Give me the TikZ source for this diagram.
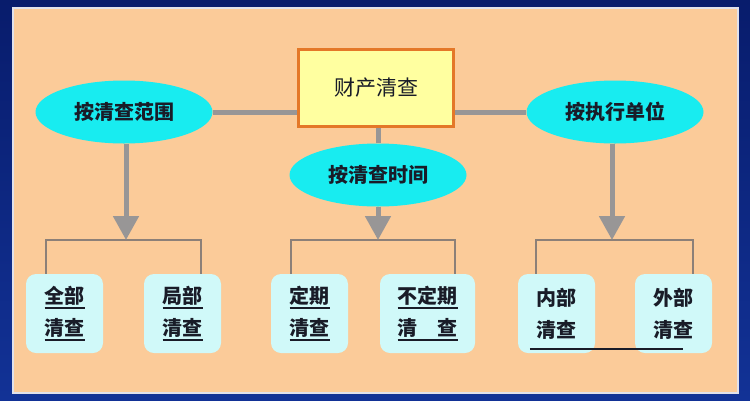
\documentclass[tikz,border=0pt]{standalone}
\usepackage{fontspec}
\newfontfamily\cjk{Noto Sans CJK SC}
\usetikzlibrary{arrows.meta,shapes.geometric}
\definecolor{frametop}{RGB}{8,28,108}
\definecolor{framebottom}{RGB}{18,50,150}
\definecolor{peach}{RGB}{251,203,153}
\definecolor{panelline}{RGB}{225,225,235}
\definecolor{boxyellow}{RGB}{255,255,160}
\definecolor{boxorange}{RGB}{228,120,40}
\definecolor{ovalcyan}{RGB}{24,236,240}
\definecolor{kindcyan}{RGB}{208,249,249}
\definecolor{conngray}{RGB}{152,150,150}
\definecolor{forkgray}{RGB}{140,128,120}
\definecolor{inkdark}{RGB}{25,28,40}
\def\uln#1{\setbox0\hbox{#1}\rlap{\rule[-5.5pt]{\wd0}{1.6pt}}\box0}
\tikzset{
	oval/.style={ellipse, fill=ovalcyan, minimum width=177pt, minimum height=63pt, inner sep=0pt, text=inkdark, font=\cjk\bfseries\fontsize{20}{24}\selectfont},
	kindbox/.style={rounded corners=10pt, fill=kindcyan, minimum width=77pt, minimum height=79pt, inner sep=0pt, align=center, text=inkdark, font=\cjk\bfseries\fontsize{20}{32}\selectfont},
	conn/.style={line width=5pt, draw=conngray, -{Triangle[width=25pt,length=24pt]}},
	link/.style={line width=5pt, draw=conngray},
	forkline/.style={line width=1.6pt, draw=forkgray},
}

\begin{document}
\begin{tikzpicture}[x=1pt, y=-1pt]
		%%%%% START %%%%%
		\useasboundingbox (0, 0) rectangle (750, 400);
		\fill[top color=frametop, bottom color=framebottom] (0, 0) rectangle (750, 400);
		\draw[line width=1.5pt, draw=panelline, fill=peach] (13, 8) rectangle (738, 393);
		
		\node[draw=boxorange, line width=3pt, fill=boxyellow, minimum width=155pt, minimum height=77pt, inner sep=0pt, text=inkdark, font=\cjk\fontsize{21}{24}\selectfont] (root) at (376, 88) {财产清查};
		
		\node[oval] (range) at (124, 112) {按清查范围};
		\node[oval] (time) at (378, 175) {按清查时间};
		\node[oval] (unit) at (615, 112) {按执行单位};
		
		\draw[link] (range) -- (range -| root.west);
		\draw[link] (unit) -- (unit -| root.east);
		\draw[link] (time) -- (time |- root.south);
		
		\node[kindbox] (all) at (64.5, 313.5) {\uln{全部}\\\uln{清查}};
		\node[kindbox] (part) at (182.5, 313.5) {\uln{局部}\\\uln{清查}};
		\node[kindbox] (reg) at (309.5, 313.5) {\uln{定期}\\\uln{清查}};
		\node[kindbox, minimum width=95pt] (irreg) at (427.5, 313.5) {\uln{不定期}\\\uln{清　查}};
		\node[kindbox] (inside) at (556.5, 313.5) {内部\\清查};
		\node[kindbox] (outside) at (673.5, 313.5) {外部\\清查};
		\draw[line width=1.5pt, draw=inkdark] ([xshift=12pt, yshift=4pt]inside.south west) -- ([xshift=-29pt, yshift=4pt]outside.south east);
		
		\coordinate (rfork) at (126, 240);
		\coordinate (tfork) at (378, 240);
		\coordinate (ufork) at (612, 240);
		
		\draw[forkline] ([xshift=20pt]all.north west) |- (rfork) -| ([xshift=-20pt]part.north east);
		\draw[forkline] ([xshift=20pt]reg.north west) |- (tfork) -| ([xshift=-20pt]irreg.north east);
		\draw[forkline] ([xshift=18pt]inside.north west) |- (ufork) -| ([xshift=-19pt]outside.north east);
		
		\draw[conn] (range.south -| rfork) -- (rfork);
		\draw[conn] (time.south -| tfork) -- (tfork);
		\draw[conn] (unit.south -| ufork) -- (ufork);
		%%%%% END %%%%%
\end{tikzpicture}
\end{document}
